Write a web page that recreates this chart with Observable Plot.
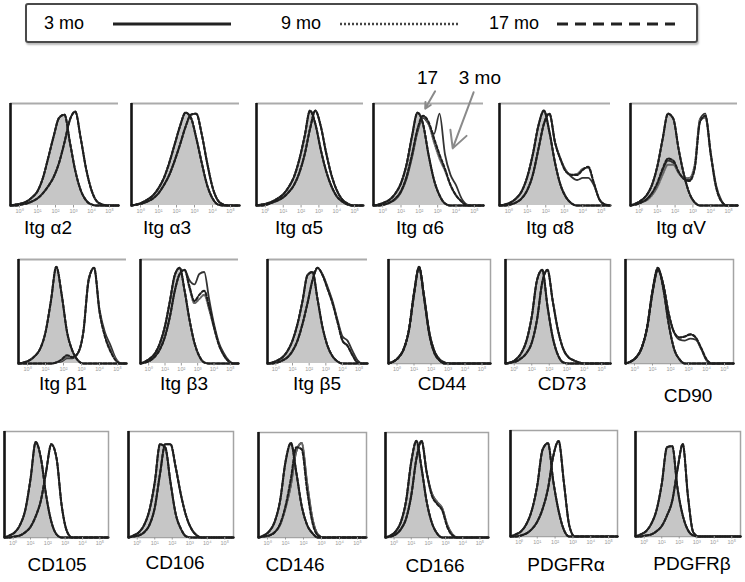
<!DOCTYPE html>
<html>
<head>
<meta charset="utf-8">
<script src="https://cdn.jsdelivr.net/npm/d3@7"></script>
<script src="https://cdn.jsdelivr.net/npm/@observablehq/plot@0.6"></script>
<style>
  body { margin: 0; background: #fff; }
  #root { position: relative; width: 745px; height: 582px; overflow: hidden; font-family: "Liberation Sans", Arial, sans-serif; background:#fff; }
  .panel { position: absolute; }
  .lab { position: absolute; font-size: 19px; color: #000; transform: translateX(-50%); white-space: nowrap; line-height: 1; }
  #legend { position: absolute; left: 25px; top: 3px; width: 669px; height: 36px; border: 2px solid #4a4a4a; border-radius: 3px; box-shadow: 1px 2px 2px #bbb; }
  #legend span { position: absolute; top: 8px; font-size: 18px; color: #000; }
  #legend svg { position: absolute; left: 0; top: 0; }
</style>
</head>
<body>
<div id="root">
  <div id="legend"></div>
</div>
<script>
// ---------------- data ----------------
const markers = ["Itg α2","Itg α3","Itg α5","Itg α6","Itg α8","Itg αV",
                 "Itg β1","Itg β3","Itg β5","CD44","CD73","CD90",
                 "CD105","CD106","CD146","CD166","PDGFRα","PDGFRβ"];
const ages = ["3 mo","9 mo","17 mo"];
// log10 fluorescence grid (decades)
const logFluor = [-0.5,-0.2,0.1,0.4,0.7,1.0,1.3,1.6,1.9,2.2,2.5,2.8,3.1,3.4,3.7,4.0,4.3,4.6,4.9,5.2,5.5];
const decadeTicks = [0,1,2,3,4,5];
const tickLabels = ["10⁰","10¹","10²","10³","10⁴","10⁵"];

// isotype control (grey filled), relative counts
const isoCounts = [
 [0,0.01,0.02,0.04,0.08,0.14,0.27,0.47,0.68,0.86,0.89,0.62,0.34,0.15,0.05,0.01,0,0,0,0,0],
 [0,0.01,0.03,0.06,0.1,0.17,0.27,0.42,0.6,0.78,0.91,0.86,0.66,0.42,0.2,0.07,0.01,0,0,0,0],
 [0,0.01,0.02,0.04,0.07,0.11,0.18,0.28,0.45,0.68,0.93,0.8,0.55,0.34,0.19,0.09,0.04,0.01,0,0,0],
 [0,0.01,0.03,0.06,0.12,0.22,0.4,0.68,0.91,0.8,0.5,0.25,0.1,0.02,0,0,0,0,0,0,0],
 [0,0.01,0.03,0.07,0.14,0.28,0.5,0.78,0.93,0.72,0.42,0.2,0.08,0.02,0,0,0,0,0,0,0],
 [0,0.02,0.05,0.1,0.2,0.38,0.65,0.9,0.85,0.55,0.3,0.12,0.03,0,0,0,0,0,0,0,0],
 [0,0.01,0.03,0.07,0.14,0.3,0.6,0.93,0.66,0.3,0.12,0.03,0,0,0,0,0,0,0,0,0],
 [0,0.02,0.05,0.1,0.2,0.36,0.6,0.85,0.92,0.7,0.42,0.2,0.07,0.01,0,0,0,0,0,0,0],
 [0,0.01,0.03,0.06,0.12,0.22,0.38,0.6,0.85,0.88,0.62,0.35,0.17,0.07,0.02,0,0,0,0,0,0],
 [0,0.02,0.06,0.14,0.32,0.68,0.92,0.62,0.28,0.1,0.03,0,0,0,0,0,0,0,0,0,0],
 [0,0.01,0.04,0.1,0.22,0.45,0.8,0.9,0.55,0.25,0.08,0.01,0,0,0,0,0,0,0,0,0],
 [0,0.02,0.06,0.15,0.35,0.7,0.92,0.72,0.38,0.14,0.04,0,0,0,0,0,0,0,0,0,0],
 [0,0.02,0.05,0.12,0.26,0.55,0.9,0.75,0.4,0.15,0.03,0,0,0,0,0,0,0,0,0,0],
 [0,0.02,0.05,0.12,0.26,0.52,0.88,0.85,0.52,0.22,0.08,0.01,0,0,0,0,0,0,0,0,0],
 [0,0.02,0.06,0.15,0.35,0.72,0.9,0.62,0.3,0.12,0.04,0,0,0,0,0,0,0,0,0,0],
 [0,0.02,0.06,0.15,0.35,0.72,0.92,0.66,0.34,0.14,0.04,0,0,0,0,0,0,0,0,0,0],
 [0,0.02,0.05,0.12,0.25,0.48,0.82,0.88,0.52,0.24,0.06,0,0,0,0,0,0,0,0,0,0],
 [0,0.02,0.05,0.12,0.25,0.5,0.85,0.86,0.46,0.2,0.06,0.01,0,0,0,0,0,0,0,0,0]
];
// stained, 3 months
const counts3mo = [
 [0,0,0.01,0.02,0.04,0.07,0.12,0.19,0.28,0.42,0.62,0.84,0.92,0.66,0.36,0.15,0.04,0.01,0,0,0],
 [0,0.01,0.02,0.04,0.07,0.12,0.2,0.3,0.44,0.6,0.77,0.89,0.9,0.7,0.42,0.18,0.05,0.01,0,0,0],
 [0,0,0.01,0.03,0.05,0.08,0.13,0.2,0.32,0.5,0.75,0.93,0.78,0.52,0.3,0.15,0.06,0.02,0,0,0],
 [0,0,0.01,0.03,0.06,0.13,0.26,0.47,0.72,0.86,0.8,0.7,0.9,0.5,0.3,0.2,0.07,0.01,0,0,0],
 [0,0,0.01,0.03,0.07,0.15,0.3,0.55,0.8,0.9,0.62,0.45,0.34,0.28,0.25,0.27,0.27,0.2,0.06,0.01,0],
 [0,0.01,0.03,0.06,0.12,0.2,0.34,0.44,0.42,0.32,0.26,0.25,0.38,0.85,0.9,0.52,0.2,0.05,0,0,0],
 [0,0,0,0,0,0,0,0.01,0.02,0.05,0.05,0.1,0.3,0.82,0.92,0.52,0.3,0.18,0.05,0,0],
 [0,0.01,0.03,0.07,0.14,0.26,0.45,0.7,0.86,0.9,0.8,0.76,0.86,0.88,0.62,0.38,0.2,0.1,0.03,0,0],
 [0,0,0.01,0.03,0.06,0.12,0.22,0.38,0.58,0.8,0.92,0.86,0.74,0.6,0.42,0.26,0.22,0.12,0.03,0,0],
 [0,0.02,0.06,0.14,0.32,0.66,0.93,0.64,0.3,0.12,0.04,0.01,0,0,0,0,0,0,0,0,0],
 [0,0.01,0.02,0.05,0.1,0.2,0.42,0.78,0.9,0.6,0.32,0.14,0.06,0.03,0.01,0,0,0,0,0,0],
 [0,0.02,0.06,0.15,0.34,0.68,0.9,0.76,0.48,0.3,0.23,0.22,0.24,0.23,0.14,0.03,0,0,0,0,0],
 [0,0,0.01,0.02,0.05,0.1,0.2,0.35,0.62,0.88,0.75,0.3,0.06,0,0,0,0,0,0,0,0],
 [0,0.01,0.02,0.05,0.12,0.28,0.6,0.88,0.88,0.66,0.4,0.2,0.08,0.02,0,0,0,0,0,0,0],
 [0,0.01,0.02,0.05,0.12,0.28,0.5,0.82,0.9,0.52,0.18,0.03,0,0,0,0,0,0,0,0,0],
 [0,0.01,0.03,0.08,0.18,0.4,0.75,0.92,0.62,0.42,0.34,0.28,0.12,0.03,0,0,0,0,0,0,0],
 [0,0,0.01,0.03,0.07,0.14,0.26,0.45,0.76,0.9,0.5,0.1,0,0,0,0,0,0,0,0,0],
 [0,0,0.01,0.02,0.05,0.1,0.2,0.34,0.64,0.88,0.38,0.04,0,0,0,0,0,0,0,0,0]
];
// stained, 9 months (null: overlaps 3 mo)
const counts9mo = [
 null, null, null,
 [0,0,0.01,0.03,0.07,0.14,0.28,0.5,0.74,0.87,0.8,0.62,0.46,0.34,0.2,0.1,0.04,0,0,0,0],
 [0,0,0.01,0.03,0.07,0.15,0.3,0.55,0.8,0.9,0.62,0.46,0.34,0.3,0.31,0.36,0.37,0.22,0.06,0.01,0],
 [0,0.01,0.03,0.05,0.1,0.18,0.3,0.4,0.4,0.32,0.27,0.27,0.4,0.84,0.86,0.5,0.18,0.04,0,0,0],
 [0,0,0,0,0,0,0,0.01,0.03,0.06,0.06,0.1,0.3,0.8,0.92,0.5,0.27,0.14,0.04,0,0],
 [0,0.01,0.03,0.07,0.14,0.26,0.45,0.7,0.86,0.9,0.72,0.58,0.62,0.66,0.52,0.34,0.18,0.08,0.02,0,0],
 [0,0,0.01,0.03,0.06,0.12,0.22,0.38,0.58,0.8,0.92,0.85,0.72,0.58,0.4,0.22,0.17,0.08,0.01,0,0],
 null, null,
 [0,0.02,0.06,0.15,0.34,0.68,0.9,0.76,0.48,0.3,0.25,0.26,0.28,0.25,0.15,0.04,0,0,0,0,0],
 null, null, null, null, null, null
];
// stained, 17 months (null: overlaps 3 mo)
const counts17mo = [
 null, null, null,
 [0,0,0.01,0.03,0.07,0.14,0.28,0.5,0.75,0.88,0.82,0.66,0.5,0.36,0.2,0.1,0.04,0,0,0,0],
 [0,0,0.01,0.03,0.07,0.15,0.3,0.55,0.8,0.9,0.62,0.45,0.33,0.3,0.3,0.35,0.38,0.22,0.06,0.01,0],
 [0,0.01,0.03,0.06,0.12,0.22,0.36,0.46,0.44,0.33,0.26,0.24,0.36,0.82,0.88,0.5,0.18,0.04,0,0,0],
 [0,0,0,0,0,0,0,0.01,0.04,0.08,0.06,0.1,0.3,0.8,0.92,0.5,0.26,0.12,0.03,0,0],
 [0,0.01,0.03,0.07,0.14,0.26,0.45,0.7,0.86,0.9,0.74,0.6,0.66,0.7,0.55,0.35,0.18,0.08,0.02,0,0],
 [0,0,0.01,0.03,0.06,0.12,0.22,0.38,0.58,0.8,0.92,0.85,0.72,0.58,0.4,0.22,0.17,0.08,0.01,0,0],
 null, null,
 [0,0.02,0.06,0.15,0.34,0.68,0.9,0.76,0.48,0.3,0.25,0.26,0.28,0.25,0.15,0.04,0,0,0,0,0],
 null, null,
 [0,0.01,0.02,0.05,0.13,0.3,0.56,0.86,0.84,0.45,0.14,0.02,0,0,0,0,0,0,0,0,0],
 [0,0.01,0.03,0.08,0.18,0.4,0.75,0.92,0.62,0.4,0.32,0.26,0.1,0.02,0,0,0,0,0,0,0],
 null, null
];
// annotation (Itg α6 panel)
const annoPanel = 3;
const annoText = ["17", "3 mo"];
const annoTextX = [2.45, 5.3];
const annoTextY = [1.25, 1.25];
const annoTailX = [2.86, 4.96];
const annoTailY = [1.12, 1.11];
const annoTipX = [2.32, 3.82];
const annoTipY = [0.95, 0.56];

// ---------------- layout ----------------
// [frame left, frame top, frame width, frame height, box ("top"|"full"), label centre x, label top y]
const panelLayout = [
 [10,103,108,102,"top",48,218],[131,103,108,102,"top",167,218],[256,103,107,102,"top",299,218],
 [373,103,110,102,"top",420,218],[499,103,111,102,"top",550,218],[630,103,107,102,"top",681,218],
 [18,259,108,104,"top",63,374],[140,259,98,104,"top",184,374],[267,259,100,104,"top",317,374],
 [388,259,102,104,"full",442,374],[505,259,105,104,"full",562,374],[625,259,108,104,"full",688,386],
 [4,431,104,106,"full",57,555],[128,431,105,106,"full",175,553],[258,432,108,105,"full",295,555],
 [385,432,103,105,"full",435,556],[510,430,107,106,"full",566,555],[635,431,105,105,"full",692,554]
];
const ageStyle = [
  {stroke: "#333", strokeWidth: 1.8, strokeDasharray: null},
  {stroke: "#666", strokeWidth: 2.0, strokeDasharray: "1.2 1.4"},
  {stroke: "#1e1e1e", strokeWidth: 2.1, strokeDasharray: "3 2"}
];

const root = document.getElementById("root");
const ml = 3, mr = 3, mt = 2, mb = 14;

markers.forEach((name, i) => {
  const [L, T, W, H, box, lx, ly] = panelLayout[i];
  const iso = logFluor.map((x, j) => ({x, y: isoCounts[i][j]}));
  const stainedByAge = [counts3mo[i], counts9mo[i] || counts3mo[i], counts17mo[i] || counts3mo[i]];
  const lineMarks = ages.map((age, a) => {
    const rows = [];
    logFluor.forEach((x, j) => rows.push({x, y: isoCounts[i][j], kind: "iso"}));
    logFluor.forEach((x, j) => rows.push({x, y: stainedByAge[a][j], kind: "stained"}));
    return Plot.line(rows, {x: "x", y: "y", z: "kind", curve: "monotone-x",
      stroke: ageStyle[a].stroke, strokeWidth: ageStyle[a].strokeWidth,
      strokeDasharray: ageStyle[a].strokeDasharray, strokeLinejoin: "round"});
  });
  const marks = [];
  if (box === "full") marks.push(Plot.frame({stroke: "#a4a4a4", strokeWidth: 1.5}));
  else marks.push(Plot.ruleY([1], {stroke: "#ababab", strokeWidth: 2}));
  marks.push(Plot.areaY(iso, {x: "x", y: "y", fill: "#c6c6c6", curve: "monotone-x"}));
  marks.push(...lineMarks);
  marks.push(Plot.ruleX([logFluor[0]], {y1: 0, y2: 1, stroke: "#151515", strokeWidth: 2.6}));
  marks.push(Plot.axisX({ticks: decadeTicks, tickFormat: (d) => tickLabels[d], tickSize: 2.5,
    tickPadding: 1, fontSize: 5.5, color: "#9a9a9a", label: null}));
  if (i === annoPanel) {
    const anno = annoText.map((t, k) => ({t, tx: annoTextX[k], ty: annoTextY[k],
      x1: annoTailX[k], y1: annoTailY[k], x2: annoTipX[k], y2: annoTipY[k]}));
    marks.push(Plot.arrow(anno, {x1: "x1", y1: "y1", x2: "x2", y2: "y2", stroke: "#8a8a8a",
      strokeWidth: 2, headLength: 14, headAngle: 55, bend: 0, insetStart: 0, insetEnd: 0}));
    marks.push(Plot.text(anno, {x: "tx", y: "ty", text: "t", fontSize: 19, fill: "#000"}));
  }
  const svg = Plot.plot({
    width: W + ml + mr, height: H + mt + mb,
    marginLeft: ml, marginRight: mr, marginTop: mt, marginBottom: mb,
    x: {domain: [logFluor[0], logFluor[logFluor.length - 1]]},
    y: {domain: [0, 1], axis: null},
    style: {overflow: "visible", fontFamily: "'Liberation Sans', Arial, sans-serif", background: "transparent"},
    marks
  });
  svg.classList.add("panel");
  svg.style.left = (L - ml) + "px";
  svg.style.top = (T - mt) + "px";
  root.appendChild(svg);
  const lab = document.createElement("div");
  lab.className = "lab";
  lab.textContent = name;
  lab.style.left = lx + "px";
  lab.style.top = ly + "px";
  root.appendChild(lab);
});

// ---------------- legend ----------------
const legendX = [17, 254, 462];     // text left (relative to box)
const legendLineX = [86, 313, 530]; // swatch start
const legendLineW = 118;
const leg = document.getElementById("legend");
const ns = "http://www.w3.org/2000/svg";
const lsvg = document.createElementNS(ns, "svg");
lsvg.setAttribute("width", 669); lsvg.setAttribute("height", 36);
ages.forEach((age, a) => {
  const s = document.createElement("span");
  s.textContent = age;
  s.style.left = legendX[a] + "px";
  leg.appendChild(s);
  const ln = document.createElementNS(ns, "line");
  ln.setAttribute("x1", legendLineX[a]); ln.setAttribute("x2", legendLineX[a] + legendLineW);
  ln.setAttribute("y1", 19); ln.setAttribute("y2", 19);
  ln.setAttribute("stroke", a === 1 ? "#444" : "#222");
  ln.setAttribute("stroke-width", a === 1 ? 2.5 : 3);
  if (a === 1) ln.setAttribute("stroke-dasharray", "2 2");
  if (a === 2) ln.setAttribute("stroke-dasharray", "11 7");
  lsvg.appendChild(ln);
});
leg.appendChild(lsvg);
</script>
</body>
</html>
